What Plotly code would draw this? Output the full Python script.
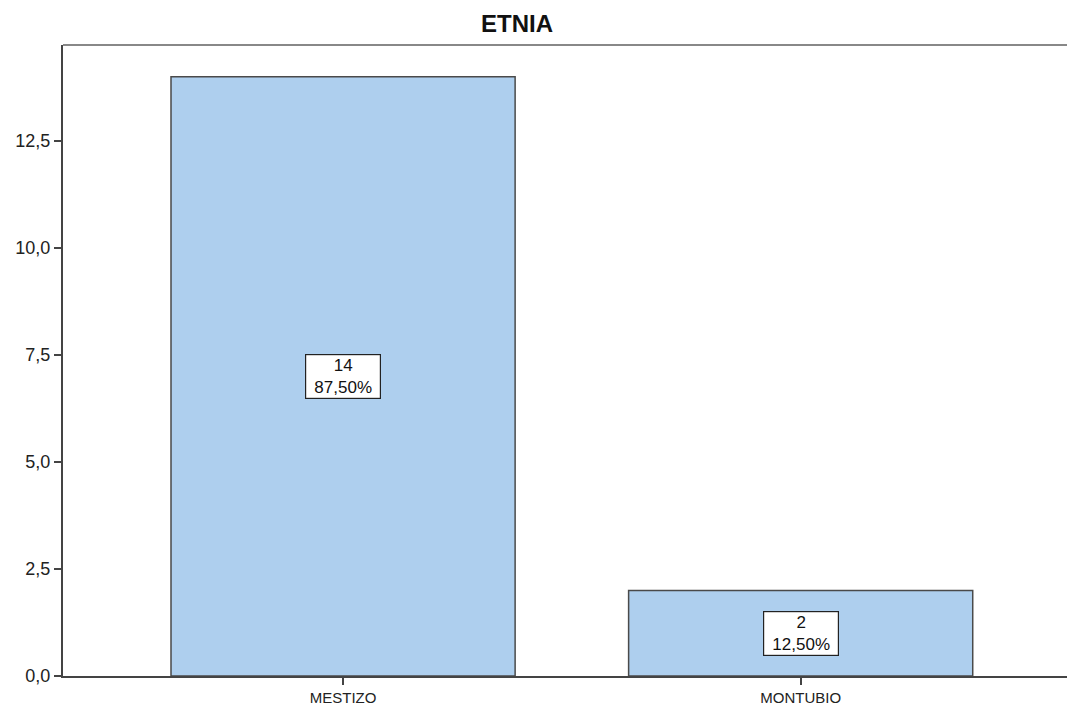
import plotly.graph_objects as go

categories = ["MESTIZO", "MONTUBIO"]
counts = [14, 2]
percent_labels = ["87,50%", "12,50%"]
ytick_vals = [0, 2.5, 5, 7.5, 10, 12.5]
ytick_text = ["0,0", "2,5", "5,0", "7,5", "10,0", "12,5"]

FONT = "Liberation Sans, Arial, sans-serif"

fig = go.Figure()
fig.add_trace(go.Bar(
    x=categories, y=counts, width=0.752,
    marker=dict(color="#aecfee", line=dict(color="#4a4a4a", width=1.5)),
    hoverinfo="skip",
))

for c, v, p in zip(categories, counts, percent_labels):
    fig.add_annotation(
        x=c, y=v / 2, xref="x", yref="y",
        text=f"{v}<br>{p}", showarrow=False,
        font=dict(family=FONT, size=17, color="#111"),
        width=72, align="center",
        bgcolor="white", bordercolor="#222", borderwidth=1.2, borderpad=1,
    )

fig.add_shape(type="line", xref="paper", yref="paper", x0=0, x1=1, y0=1, y1=1,
              line=dict(color="#888", width=2))

fig.update_layout(
    width=1067, height=705,
    margin=dict(l=63, r=0, t=45, b=29, autoexpand=False),
    paper_bgcolor="white", plot_bgcolor="white",
    showlegend=False,
    title=dict(text="<b>ETNIA</b>", x=517 / 1067, xanchor="center", y=1 - 24 / 705, yanchor="middle",
               font=dict(family=FONT, size=24, color="#111")),
    xaxis=dict(range=[-0.612, 1.582], showline=True, linecolor="#444", linewidth=2,
               ticks="outside", ticklen=7, tickcolor="#444", tickwidth=2,
               showgrid=False, zeroline=False, automargin=False,
               tickfont=dict(family=FONT, size=15, color="#222")),
    yaxis=dict(range=[0, 14.74], showline=True, linecolor="#444", linewidth=2,
               tickvals=ytick_vals, ticktext=ytick_text,
               ticks="outside", ticklen=7, tickcolor="#444", tickwidth=2,
               showgrid=False, zeroline=False, automargin=False,
               tickfont=dict(family=FONT, size=18, color="#222")),
)

fig.write_html("out.html", config={"displayModeBar": False},
               post_script="document.body.style.margin='0';document.body.style.overflow='hidden';")
